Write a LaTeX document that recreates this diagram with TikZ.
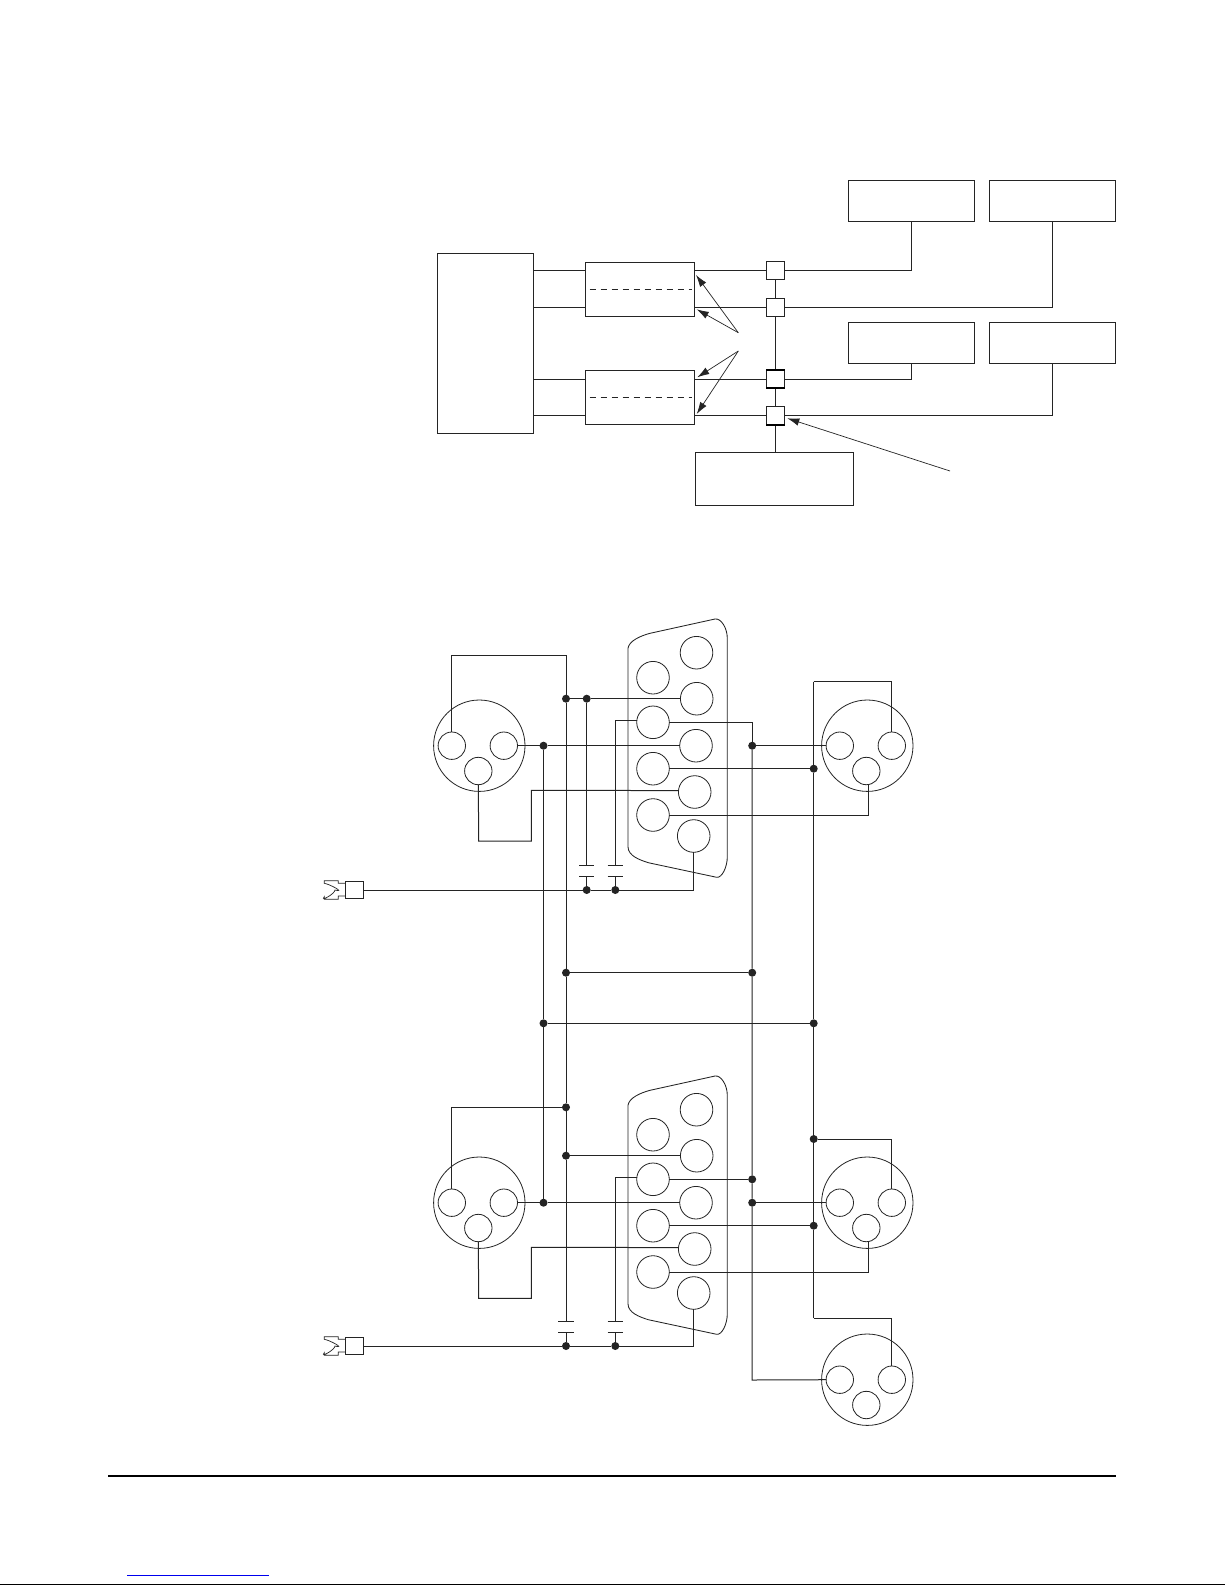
\documentclass[tikz,border=0pt]{standalone}
\usetikzlibrary{arrows.meta,calc}
\definecolor{ink}{gray}{0.14}
\definecolor{linkblue}{RGB}{0,0,238}
\tikzset{
  x=1pt,y=-1pt,
  wire/.style={draw=ink,line width=1pt,line join=miter},
  boxnode/.style={draw=ink,line width=1pt,rectangle,inner sep=0pt,outer sep=0pt},
  square/.style={boxnode,fill=white,minimum width=18.4pt,minimum height=18pt},
  feed/.style={draw=ink,line width=1pt},
  bar/.style={draw=black,line width=2pt},
  pointer/.style={draw=ink,line width=0.7pt,-{Latex[length=12pt,width=7.5pt]}},
  pinhole/.style={draw=ink,line width=0.8pt,circle,inner sep=0pt,outer sep=0pt,minimum size=#1},
  dot/.style={fill=ink,circle,inner sep=0pt,outer sep=0pt,minimum size=8pt},
  plate/.style={draw=ink,line width=1pt},
}
% XLR connector: name, x, y
\newcommand\xlrplug[3]{%
  \node[pinhole=91.4pt] (#1) at (#2,#3) {};
  \node[pinhole=27.4pt] (#1l) at (#2-27.5,#3) {};
  \node[pinhole=27.4pt] (#1r) at (#2+24.5,#3) {};
  \node[pinhole=27.4pt] (#1b) at (#2-1,#3+25.3) {};
}
% D-sub connector: name, y offset
\newcommand\dsubshell[2]{%
  \draw[wire,line width=0.85pt] (628,648.3+#2) .. controls (629,641+#2) and (640,636+#2) .. (650,633.3+#2)
    -- (715,619+#2) .. controls (721,618+#2) and (727.3,628+#2) .. (727.3,638.3+#2)
    -- (727.3,856.7+#2) .. controls (727.3,867+#2) and (722,878+#2) .. (716.7,877.3+#2)
    -- (648.3,862.7+#2) .. controls (640,860+#2) and (628,856+#2) .. (628,846.7+#2) -- cycle;
  \node[pinhole=32.6pt] (#1a1) at (696.5,652.7+#2) {};
  \node[pinhole=32.6pt] (#1a2) at (696.7,698.7+#2) {};
  \node[pinhole=32.6pt] (#1a3) at (696,745.7+#2) {};
  \node[pinhole=32.6pt] (#1a4) at (694.7,792+#2) {};
  \node[pinhole=32.6pt] (#1a5) at (693.7,836+#2) {};
  \node[pinhole=32.6pt] (#1b1) at (653,677.7+#2) {};
  \node[pinhole=32.6pt] (#1b2) at (653,722.3+#2) {};
  \node[pinhole=32.6pt] (#1b3) at (653,768.7+#2) {};
  \node[pinhole=32.6pt] (#1b4) at (653,815+#2) {};
}
% spade lug with square body: name, y
\newcommand\lug[2]{%
  \node[draw=ink,line width=0.85pt,rectangle,inner sep=0pt,outer sep=0pt,minimum width=17.6pt,minimum height=17.4pt] (#1) at (354.5,#2) {};
  \draw[wire,line width=0.7pt] (#1.west) ++(0,-6.7) -- ++(-7.4,0) -- ++(0,-2.6) -- ++(-14,0) -- ++(0,2.6)
    .. controls +(6,1) and +(10.7,3) .. ++(10.7,6.7) .. controls +(0,3.7) and +(-4.7,5.7) .. ++(-10.7,6.7)
    -- ++(0,2.6) -- ++(14,0) -- ++(0,-3.3) -- ++(7.4,0);
}
% capacitor: top name, bottom name
\newcommand\capplates[2]{%
  \draw[plate] ([xshift=-7.6pt]#1) -- ([xshift=7.6pt]#1);
  \draw[plate] ([xshift=-7.6pt]#2) -- ([xshift=7.6pt]#2);
}
\begin{document}
\begin{tikzpicture}
\path[fill=white,use as bounding box] (0,0) rectangle (1225,1585);

% ---------- block diagram ----------
\node[boxnode,minimum width=96.1pt,minimum height=180pt] (hub) at (485.75,343.3) {};
\node[boxnode,minimum width=109.2pt,minimum height=54pt] (xf1) at (640.1,289.3) {};
\node[boxnode,minimum width=109.2pt,minimum height=54pt] (xf2) at (640.1,397.3) {};
\node[boxnode,minimum width=126pt,minimum height=41pt] (rx1) at (911.6,200.8) {};
\node[boxnode,minimum width=126pt,minimum height=41pt] (rx2) at (1052.6,200.8) {};
\node[boxnode,minimum width=126pt,minimum height=41pt] (rx3) at (911.6,343) {};
\node[boxnode,minimum width=126pt,minimum height=41pt] (rx4) at (1052.6,343) {};
\node[boxnode,minimum width=158.2pt,minimum height=53pt] (tx) at (774.7,478.8) {};
\node[square] (s1) at (775.5,270.5) {};
\node[square] (s2) at (775.5,307.3) {};
\node[square] (s3) at (775.5,379) {};
\node[square] (s4) at (775.5,415.6) {};

\draw[boxnode,dashed,dash pattern=on 6pt off 5pt] ([xshift=4pt]xf1.west) -- ([xshift=-3pt]xf1.east);
\draw[boxnode,dashed,dash pattern=on 6pt off 5pt] ([xshift=4pt]xf2.west) -- ([xshift=-3pt]xf2.east);

\foreach \s/\t in {s1/xf1,s2/xf1,s3/xf2,s4/xf2}{
  \draw[feed] (hub.east |- \s) -- (\t.west |- \s);
  \draw[feed] (\t.east |- \s) -- (\s.west);
}
\draw[feed] (s1.south) -- (s2.north);
\draw[feed] (s2.south) -- (s3.north);
\draw[feed] (s3.south) -- (s4.north);
\draw[feed] (s4.south) -- (s4.south |- tx.north);
\draw[feed] (s1.east) -| (rx1.south);
\draw[feed] (s2.east) -| (rx2.south);
\draw[feed] (s3.east) -| (rx3.south);
\draw[feed] (s4.east) -| (rx4.south);
\draw[bar] (s3.north west) -- (s3.north east);
\draw[bar] (s3.south west) -- (s3.south east);
\draw[bar] (s4.south west) -- (s4.south east);

\coordinate (calloutA) at (738.3,332.7);
\coordinate (calloutB) at (738.3,351);
\coordinate (calloutC) at (950,471);
\coordinate (tipA1) at (696,275);
\coordinate (tipA2) at (696.7,309.3);
\coordinate (tipB1) at (697.3,377.3);
\coordinate (tipB2) at (696.7,414);
\coordinate (tipC) at (787.3,418.3);
\draw[pointer] (calloutA) -- (tipA1);
\draw[pointer] (calloutA) -- (tipA2);
\draw[pointer] (calloutB) -- (tipB1);
\draw[pointer] (calloutB) -- (tipB2);
\draw[pointer] (calloutC) -- (tipC);

% ---------- wiring diagram: connectors ----------
\xlrplug{TL}{479.3}{745.7}
\xlrplug{TR}{867.3}{745.7}
\xlrplug{BL}{479.3}{1202.7}
\xlrplug{BR}{867.3}{1202.7}
\xlrplug{XX}{867.3}{1379.7}
\dsubshell{T}{0}
\dsubshell{B}{457}
\lug{Tlug}{890}
\lug{Blug}{1346}

% junctions
\node[dot] (jA) at (566,698.7) {};
\node[dot] (jB) at (586.7,698.7) {};
\node[dot] (jC) at (543.5,745.7) {};
\node[dot] (jD) at (752.2,745.7) {};
\node[dot] (jE) at (813.7,768.7) {};
\node[dot] (jF) at (586.7,890) {};
\node[dot] (jG) at (615.3,890) {};
\node[dot] (jM) at (566,972.7) {};
\node[dot] (jP) at (752.2,972.7) {};
\node[dot] (jS) at (543.5,1023.3) {};
\node[dot] (jU) at (813.7,1023.3) {};
\node[dot] (jN) at (566,1107.3) {};
\node[dot] (jO) at (566,1155.7) {};
\node[dot] (jV) at (813.7,1139) {};
\node[dot] (jQ) at (752.2,1179.3) {};
\node[dot] (jC2) at (543.5,1202.7) {};
\node[dot] (jR) at (752.2,1202.7) {};
\node[dot] (jW) at (813.7,1225.7) {};
\node[dot] (jH) at (566,1346) {};
\node[dot] (jI) at (615.3,1346) {};

% bend points
\coordinate (tlc) at (566,655.7);
\coordinate (Tq1) at (478.7,841);
\coordinate (Tq2) at (531.3,841);
\coordinate (Tq3) at (531.3,790.3);
\coordinate (Tv) at (752.2,722.3);
\coordinate (Tc) at (813.7,681.7);
\coordinate (c1t) at (586.7,865.3);
\coordinate (c1b) at (586.7,876);
\coordinate (c2t) at (615.3,865.3);
\coordinate (c2b) at (615.3,876);
\coordinate (c3t) at (566,1321.3);
\coordinate (c3b) at (566,1332.3);
\coordinate (c4t) at (615.3,1321.3);
\coordinate (c4b) at (615.3,1332.3);
\coordinate (Bq1) at (478.7,1298.3);
\coordinate (Bq2) at (531.3,1298.3);
\coordinate (Bq3) at (531.3,1247.3);
\coordinate (Bc) at (813.7,1318);
\coordinate (Bv) at (752.2,1380);

% upper unit
\draw[wire] (TLl.north) |- (tlc) -- (jA);
\draw[wire] (jA) -- (jB) -- (Ta2.west);
\draw[wire] (TLr.east) -- (jC) -- (Ta3.west);
\draw[wire] (TLb.south) -- (Tq1) -- (Tq2) -- (Tq3) -- (Ta4.175);
\draw[wire] (jB) -- (c1t);
\draw[wire] (c1b) -- (jF);
\capplates{c1t}{c1b}
\draw[wire] (Tb2.173) -| (c2t);
\draw[wire] (c2b) -- (jG);
\capplates{c2t}{c2b}
\draw[wire] (Tlug.east) -- (jF) -- (jG) -| (Ta5.south);
\draw[wire] (Tb2.east) -- (Tv) -- (jD) -- (TRl.west);
\draw[wire] (Tb3.east) -- (jE);
\draw[wire] (Tb4.east) -| (TRb.-79);
\draw[wire] (Tc) -| (TRr.north);

% long verticals and cross links
\draw[wire] (jA) -- (jM) -- (jN) -- (jO) -- (c3t);
\draw[wire] (jC) -- (jS) -- (jC2);
\draw[wire] (jD) -- (jP) -- (jQ) -- (jR) -- (Bv) -- (XXl.west);
\draw[wire] (Tc) -- (jE) -- (jU) -- (jV) -- (jW) -- (Bc);
\draw[wire] (jM) -- (jP);
\draw[wire] (jS) -- (jU);

% lower unit
\draw[wire] (BLl.north) |- (jN);
\draw[wire] (jO) -- (Ba2.west);
\draw[wire] (BLr.east) -- (jC2) -- (Ba3.west);
\draw[wire] (BLb.south) -- (Bq1) -- (Bq2) -- (Bq3) -- (Ba4.175);
\draw[wire] (c3b) -- (jH);
\capplates{c3t}{c3b}
\draw[wire] (Bb2.173) -| (c4t);
\draw[wire] (c4b) -- (jI);
\capplates{c4t}{c4b}
\draw[wire] (Blug.east) -- (jH) -- (jI) -| (Ba5.south);
\draw[wire] (Bb2.east) -- (jQ);
\draw[wire] (jR) -- (BRl.west);
\draw[wire] (Bb3.east) -- (jW);
\draw[wire] (Bb4.east) -| (BRb.-79);
\draw[wire] (jV) -| (BRr.north);
\draw[wire] (Bc) -| (XXr.north);

% page furniture
\coordinate (ruleL) at (108,1475.7);
\coordinate (ruleR) at (1116,1475.7);
\draw[black,line width=2pt] (ruleL) -- (ruleR);
\coordinate (linkL) at (127,1575);
\coordinate (linkR) at (269,1575);
\draw[linkblue,line width=1pt] (linkL) -- (linkR);
\coordinate (edgeL) at (0,1584.3);
\coordinate (edgeR) at (1225,1584.3);
\draw[black,line width=1.2pt] (edgeL) -- (edgeR);
\end{tikzpicture}
\end{document}
